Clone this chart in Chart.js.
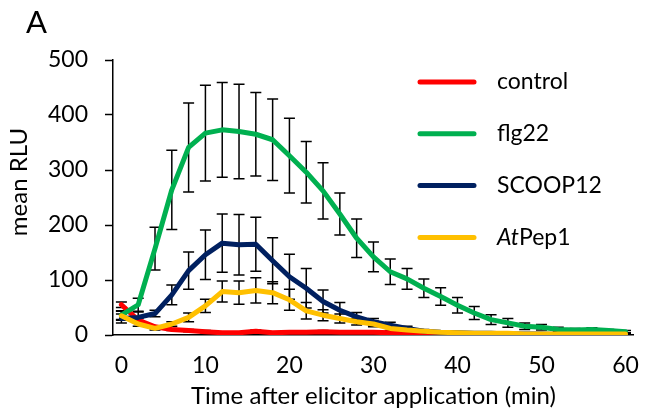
<!DOCTYPE html>
<html>
<head>
<meta charset="utf-8">
<script src="https://cdn.jsdelivr.net/npm/chart.js@4.4.0/dist/chart.umd.min.js"></script>
<style>
  html, body { margin: 0; padding: 0; background: #fff; }
  #wrap { width: 648px; height: 419px; }
</style>
</head>
<body>
<div id="wrap"><canvas id="rluChart" width="648" height="419"></canvas></div>
<script>
// time after elicitor application (min)
const times = [0, 2, 4, 6, 8, 10, 12, 14, 16, 18, 20, 22, 24, 26, 28, 30,
               32, 34, 36, 38, 40, 42, 44, 46, 48, 50, 52, 54, 56, 58, 60];
const xTicks = [0, 10, 20, 30, 40, 50, 60];
const yTicks = [0, 100, 200, 300, 400, 500];

const seriesNames = ['control', 'flg22', 'SCOOP12', 'AtPep1'];
const italicPrefix = ['', '', '', 'At'];
const seriesColors = ['#FF0000', '#00B050', '#002060', '#FFC000'];

// mean RLU values
const control = [55, 27, 15, 10, 8, 6, 4, 4, 7, 4, 5, 5, 6, 5, 5, 5,
                 4, 4, 3, 1, 0, 0, 0, 0, 0, 0, 0, 0, 0, 0, 0];
const flg22 = [36, 55, 157, 264, 341, 367, 373, 370, 365, 355, 326, 296, 262, 220, 176, 142,
               115, 102, 85, 70, 54, 40, 28, 22, 16, 14, 10, 9, 10, 8, 6];
const scoop12 = [30, 32, 39, 73, 117, 146, 167, 164, 165, 135, 106, 85, 61, 45, 33, 24,
                 18, 12, 7, 5, 4, 3, 3, 2, 2, 2, 1, 1, 1, 1, 1];
const atpep1 = [35, 20, 12, 20, 32, 53, 79, 77, 81, 77, 64, 44, 36, 30, 24, 20,
                12, 9, 7, 5, 4, 3, 3, 3, 2, 2, 2, 2, 2, 2, 2];

// error bar half-lengths
const controlErr = [5, 3, 2, 2, 2, 2, 2, 2, 2, 2, 2, 2, 2, 2, 2, 2,
                    1, 1, 1, 1, 1, 1, 1, 1, 1, 1, 1, 1, 1, 1, 1];
const flg22Err = [8, 12, 39, 72, 81, 87, 86, 86, 76, 74, 68, 56, 51, 38, 35, 27,
                  23, 19, 17, 16, 14, 12, 9, 8, 6, 5, 4, 3, 3, 2, 2];
const scoop12Err = [8, 10, 6, 18, 34, 45, 53, 55, 49, 42, 41, 36, 21, 14, 8, 6,
                    5, 4, 3, 2, 2, 2, 1, 1, 1, 1, 1, 1, 1, 1, 1];
const atpep1Err = [8, 4, 3, 4, 8, 12, 19, 21, 23, 20, 19, 15, 10, 8, 6, 5,
                   4, 3, 2, 2, 1, 1, 1, 1, 1, 1, 1, 1, 1, 1, 1];

const values = [control, flg22, scoop12, atpep1];
const errors = [controlErr, flg22Err, scoop12Err, atpep1Err];

const FONT = 'Lato, "Open Sans", sans-serif';

const datasets = seriesNames.map((name, k) => ({
    label: name,
    data: times.map((t, i) => ({ x: t, y: values[k][i] })),
    errors: errors[k],
    borderColor: seriesColors[k],
    backgroundColor: seriesColors[k],
    borderWidth: 5,
    pointRadius: 0,
    tension: 0,
    fill: false,
    borderJoinStyle: 'round',
    borderCapStyle: 'round',
    order: seriesNames.length - k
}));

// black error bars, drawn under the lines
const errorBars = {
    id: 'errorBars',
    beforeDatasetsDraw(chart) {
        const { ctx, chartArea, scales: { x, y } } = chart;
        ctx.save();
        ctx.beginPath();
        ctx.rect(chartArea.left, chartArea.top - 10, chartArea.width, chartArea.height + 10);
        ctx.clip();
        ctx.strokeStyle = '#000';
        ctx.lineWidth = 1.5;
        chart.data.datasets.forEach(ds => {
            ds.data.forEach((p, i) => {
                const e = ds.errors[i];
                if (!e) return;
                const px = x.getPixelForValue(p.x);
                const top = y.getPixelForValue(p.y + e);
                const bot = y.getPixelForValue(p.y - e);
                ctx.beginPath();
                ctx.moveTo(px, top);
                ctx.lineTo(px, bot);
                ctx.moveTo(px - 5.5, top);
                ctx.lineTo(px + 5.5, top);
                ctx.moveTo(px - 5.5, bot);
                ctx.lineTo(px + 5.5, bot);
                ctx.stroke();
            });
        });
        ctx.restore();
    }
};

// legend with italic prefix, y title and panel letter
const extras = {
    id: 'extras',
    afterDraw(chart) {
        const ctx = chart.ctx;
        ctx.save();
        ctx.fillStyle = '#000';
        ctx.textBaseline = 'middle';
        chart.data.datasets.forEach((ds, k) => {
            const ly = 82 + k * 51.8;
            ctx.strokeStyle = ds.borderColor;
            ctx.lineWidth = 5;
            ctx.lineCap = 'round';
            ctx.beginPath();
            ctx.moveTo(420, ly);
            ctx.lineTo(474, ly);
            ctx.stroke();
            let tx = 497;
            const pre = italicPrefix[k];
            if (pre) {
                ctx.font = 'italic 23px ' + FONT;
                ctx.fillText(pre, tx, ly);
                tx += ctx.measureText(pre).width;
            }
            ctx.font = '23px ' + FONT;
            ctx.fillText(ds.label.slice(pre.length), tx, ly);
        });

        ctx.font = '24px ' + FONT;
        ctx.translate(19, 182);
        ctx.rotate(-Math.PI / 2);
        ctx.textAlign = 'center';
        ctx.fillText('mean RLU', 0, 0);
        ctx.setTransform(1, 0, 0, 1, 0, 0);

        ctx.textAlign = 'left';
        ctx.textBaseline = 'alphabetic';
        ctx.font = '31px ' + FONT;
        ctx.fillText('A', 26, 33);
        ctx.restore();
    }
};

new Chart(document.getElementById('rluChart'), {
    type: 'line',
    data: { datasets: datasets },
    options: {
        responsive: false,
        animation: false,
        devicePixelRatio: 1,
        layout: { padding: { top: 60, right: 10, left: 0, bottom: 0 } },
        plugins: {
            legend: { display: false },
            tooltip: { enabled: false }
        },
        scales: {
            x: {
                type: 'linear',
                min: -1,
                max: 61,
                afterBuildTicks: scale => {
                    scale.ticks = xTicks.map(v => ({ value: v }));
                },
                afterFit: scale => { scale.height = 84; },
                grid: { display: false },
                border: { display: true, color: '#000', width: 1.5 },
                ticks: {
                    color: '#000',
                    padding: 9,
                    maxRotation: 0,
                    font: { family: FONT, size: 23 }
                },
                title: {
                    display: true,
                    text: 'Time after elicitor application (min)',
                    color: '#000',
                    padding: { top: 0, bottom: 8 },
                    font: { family: FONT, size: 24 }
                }
            },
            y: {
                min: 0,
                max: 500,
                afterBuildTicks: scale => {
                    scale.ticks = yTicks.map(v => ({ value: v }));
                },
                afterFit: scale => { scale.width = 113; },
                grid: {
                    drawOnChartArea: false,
                    drawTicks: true,
                    tickLength: 8,
                    tickColor: '#000',
                    tickWidth: 1.5
                },
                border: { display: true, color: '#000', width: 1.5 },
                ticks: {
                    color: '#000',
                    padding: 17,
                    font: { family: FONT, size: 23 }
                }
            }
        }
    },
    plugins: [errorBars, extras]
});
</script>
</body>
</html>
